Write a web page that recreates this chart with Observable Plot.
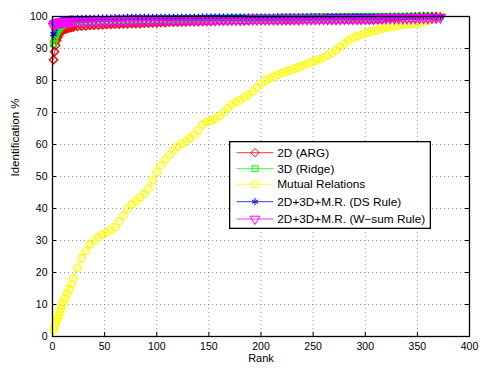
<!DOCTYPE html>
<html><head><meta charset="utf-8">
<script src="https://cdn.jsdelivr.net/npm/d3@7"></script>
<script src="https://cdn.jsdelivr.net/npm/@observablehq/plot@0.6"></script>
<style>
body{margin:0;background:#fff}
#chart{position:relative;width:480px;height:368px;font-family:"Liberation Sans",Arial,Helvetica,sans-serif}
#legend{position:absolute;left:229px;top:141px}
</style></head><body><div id="chart"></div>
<script>
const xTicks = [0,50,100,150,200,250,300,350,400];
const yTicks = [0,10,20,30,40,50,60,70,80,90,100];
const seriesNames = ["2D (ARG)","3D (Ridge)","Mutual Relations","2D+3D+M.R. (DS Rule)","2D+3D+M.R. (W\u2212sum Rule)"];
const ranks = [1,2,3,4,5,6,7,8,9,10,12,14,16,18,20,
 24,28,32,36,40,44,48,52,56,60,
 64,68,72,76,80,84,88,92,96,100,
 104,108,112,116,120,124,128,132,136,140,
 144,148,152,156,160,164,168,172,176,180,
 184,188,192,196,200,204,208,212,216,220,
 224,228,232,236,240,244,248,252,256,260,
 264,268,272,276,280,284,288,292,296,300,
 304,308,312,316,320,324,328,332,336,340,
 344,348,352,356,360,364,368,372];
const arg2D = [86.5,89,91,92.5,93.5,94.2,94.8,95.2,95.5,95.8,96,96.2,96.4,96.6,96.7,
 96.9,97,97.1,97.2,97.3,97.3,97.4,97.5,97.5,97.6,
 97.6,97.7,97.7,97.8,97.8,97.8,97.9,97.9,98,98,
 98.1,98.1,98.2,98.2,98.2,98.3,98.3,98.4,98.4,98.4,
 98.5,98.5,98.5,98.6,98.6,98.6,98.6,98.7,98.7,98.7,
 98.7,98.7,98.8,98.8,98.8,98.8,98.8,98.8,98.8,98.8,
 98.8,98.8,98.8,98.8,98.9,98.9,98.9,98.9,98.9,98.9,
 98.9,98.9,98.9,98.9,98.9,98.9,98.9,98.9,98.9,98.9,
 98.9,98.9,99,99,99.6,99.7,99.7,99.7,99.7,99.8,
 99.8,99.9,100,100,100,100,100,100];
const ridge3D = [91.5,93,94.3,95.2,95.8,96.3,96.7,97,97.3,97.5,97.7,97.9,98,98.1,98.2,
 98.3,98.4,98.5,98.5,98.6,98.6,98.7,98.7,98.7,98.8,
 98.8,98.8,98.9,98.9,98.9,99,99,99,99,99.1,
 99.1,99.1,99.1,99.2,99.2,99.2,99.2,99.3,99.3,99.3,
 99.3,99.3,99.4,99.4,99.4,99.4,99.4,99.5,99.5,99.5,
 99.5,99.5,99.5,99.6,99.6,99.6,99.6,99.6,99.6,99.7,
 99.7,99.7,99.7,99.7,99.7,99.7,99.8,99.8,99.8,99.8,
 99.8,99.8,99.8,99.8,99.9,99.9,99.9,99.9,99.9,99.9,
 99.9,99.9,99.9,100,100,100,100,100,100,100,
 100,100,100,100,100,100,100,100];
const mutual = [2,3,4,5,5.8,6.6,7.6,8.6,9.7,10.8,12,13.5,14.8,16.4,18.2,
 21.5,24.5,26.8,28.8,30,31,31.8,32.6,33.3,34.2,
 36,37.8,40,41.3,42.3,43.4,44.6,46.2,48.8,51.4,
 53.5,55.3,56.8,58.2,59.3,60.2,61.1,62,63,64.5,
 66.2,67,67.4,68,69,70.1,71.3,72.4,73.3,74,
 74.8,75.5,76.5,77.8,79,80,80.6,81.2,81.8,82.4,
 82.8,83.2,83.7,84.1,84.6,85.2,85.7,86.1,86.6,87.2,
 87.9,88.6,89.5,90.5,91.5,92.5,93.3,93.8,94.3,94.8,
 95.2,95.5,95.8,96.2,96.5,96.8,97,97.2,97.4,97.6,
 97.7,97.8,97.9,98.2,98.6,99,99.4,100];
const dsRule = [94.5,96,97,97.6,98,98.3,98.5,98.6,98.7,98.8,98.9,99,99.1,99.2,99.2,
 99.3,99.3,99.4,99.4,99.4,99.5,99.5,99.5,99.5,99.6,
 99.6,99.6,99.7,99.7,99.7,99.7,99.7,99.7,99.7,99.7,
 99.7,99.7,99.7,99.7,99.7,99.7,99.7,99.7,99.7,99.7,
 99.8,99.8,99.8,99.8,99.8,99.8,99.8,99.8,99.8,99.8,
 99.8,99.8,99.8,99.8,99.8,99.8,99.8,99.8,99.9,99.9,
 99.9,99.9,99.9,99.9,99.9,99.9,99.9,99.9,99.9,99.9,
 100,100,100,100,100,100,100,100,100,100,
 100,100,100,100,100,100,100,100,100,100,
 100,100,100,100,100,100,100,100];
const wsumRule = [97,97.5,97.8,98,98.1,98.2,98.2,98.3,98.3,98.3,98.4,98.4,98.4,98.4,98.5,
 98.5,98.5,98.5,98.5,98.6,98.6,98.6,98.6,98.6,98.7,
 98.7,98.7,98.7,98.7,98.8,98.8,98.8,98.8,98.8,98.8,
 98.9,98.9,98.9,98.9,98.9,98.9,99,99,99,99,
 99,99,99,99,99.1,99.1,99.1,99.1,99.1,99.1,
 99.1,99.2,99.2,99.2,99.2,99.2,99.2,99.2,99.2,99.2,
 99.3,99.3,99.3,99.3,99.3,99.3,99.3,99.3,99.3,99.3,
 99.3,99.3,99.3,99.3,99.4,99.4,99.4,99.4,99.4,99.4,
 99.4,99.4,99.5,99.5,99.5,99.5,99.5,99.5,99.5,99.5,
 99.5,99.6,99.6,99.6,99.6,99.7,99.7,99.8];

const colors = ["#ff0000","#00ff00","#ffff00","#0000ff","#ff00ff"];
const symbols = ["diamond2","square","circle","asterisk","triangle"];
const radii = [3.7,3.3,3.6,3.4,3.6];
const rotations = [0,0,0,0,180];
const valueLists = [arg2D, ridge3D, mutual, dsRule, wsumRule];

const series = seriesNames.map((name,i)=>({
  name, color: colors[i], symbol: symbols[i], r: radii[i], rotate: rotations[i],
  rows: ranks.map((rk,j)=>({rank: rk, value: valueLists[i][j]}))
}));

const W=480, H=368, mL=52, mR=11, mT=16, mB=32;
const innerW = W-mL-mR, innerH = H-mT-mB;
const font = '"Liberation Sans",Arial,Helvetica,sans-serif';

const seriesMarks = series.flatMap(s => [
  Plot.line(s.rows, {x:"rank", y:"value", stroke:s.color, strokeWidth:0.8}),
  Plot.dot(s.rows, {x:"rank", y:"value", stroke:s.color, fill:"none", symbol:s.symbol, r:s.r, rotate:s.rotate, strokeWidth:1.4})
]);

const chart = Plot.plot({
  width:W, height:H, marginLeft:mL, marginRight:mR, marginTop:mT, marginBottom:mB,
  x:{domain:[0,400]}, y:{domain:[0,100]},
  style:{fontFamily:font, fontSize:"10.5px", background:"white", color:"black"},
  marks:[
    Plot.gridX({ticks:xTicks, stroke:"#777", strokeOpacity:1, strokeWidth:0.8, strokeDasharray:"1,3"}),
    Plot.gridY({ticks:yTicks, stroke:"#777", strokeOpacity:1, strokeWidth:0.8, strokeDasharray:"1,3"}),
    Plot.tickX(xTicks, {x:d=>d, insetTop: innerH-4, stroke:"black"}),
    Plot.tickX(xTicks, {x:d=>d, insetBottom: innerH-4, stroke:"black"}),
    Plot.tickY(yTicks, {y:d=>d, insetRight: innerW-4, stroke:"black"}),
    Plot.tickY(yTicks, {y:d=>d, insetLeft: innerW-4, stroke:"black"}),
    Plot.axisX({ticks:xTicks, tickSize:0, tickPadding:6, label:null, fontSize:10.5}),
    Plot.axisY({ticks:yTicks, tickSize:0, tickPadding:5, label:null, fontSize:10.5}),
    Plot.text(["Rank"], {frameAnchor:"bottom", dy:25, fontSize:11}),
    Plot.text(["Identification %"], {frameAnchor:"left", dx:-37, rotate:-90, fontSize:11.5}),
    ...seriesMarks,
    Plot.frame({stroke:"black", strokeWidth:1.3})
  ]
});
const host = document.getElementById("chart");
host.appendChild(chart);

// legend (inside plot area, MATLAB style)
const lw=202, lh=88, rowY=[11.7,27.7,43.3,60.7,78];
const leg = d3.create("svg").attr("id","legend").attr("width",lw).attr("height",lh)
  .style("font-family",font).style("font-size","11.8px");
leg.append("rect").attr("x",0.65).attr("y",0.65).attr("width",lw-1.3).attr("height",lh-1.3)
  .attr("fill","white").attr("stroke","black").attr("stroke-width",1.3);
const symMap = {diamond2:d3.symbolDiamond2, square:d3.symbolSquare, circle:d3.symbolCircle, asterisk:d3.symbolAsterisk, triangle:d3.symbolTriangle};
series.forEach((s,i)=>{
  const g = leg.append("g").attr("transform",`translate(0,${rowY[i]})`);
  g.append("line").attr("x1",7.7).attr("x2",44.3).attr("stroke",s.color).attr("stroke-width",0.8);
  g.append("path").attr("d", d3.symbol(symMap[s.symbol], Math.PI*s.r*s.r)())
    .attr("transform",`translate(26,0) rotate(${s.rotate})`)
    .attr("fill","none").attr("stroke",s.color).attr("stroke-width",1);
  g.append("text").attr("x",48.3).attr("dy","0.35em").attr("fill","black").text(s.name);
});
host.appendChild(leg.node());
</script></body></html>
